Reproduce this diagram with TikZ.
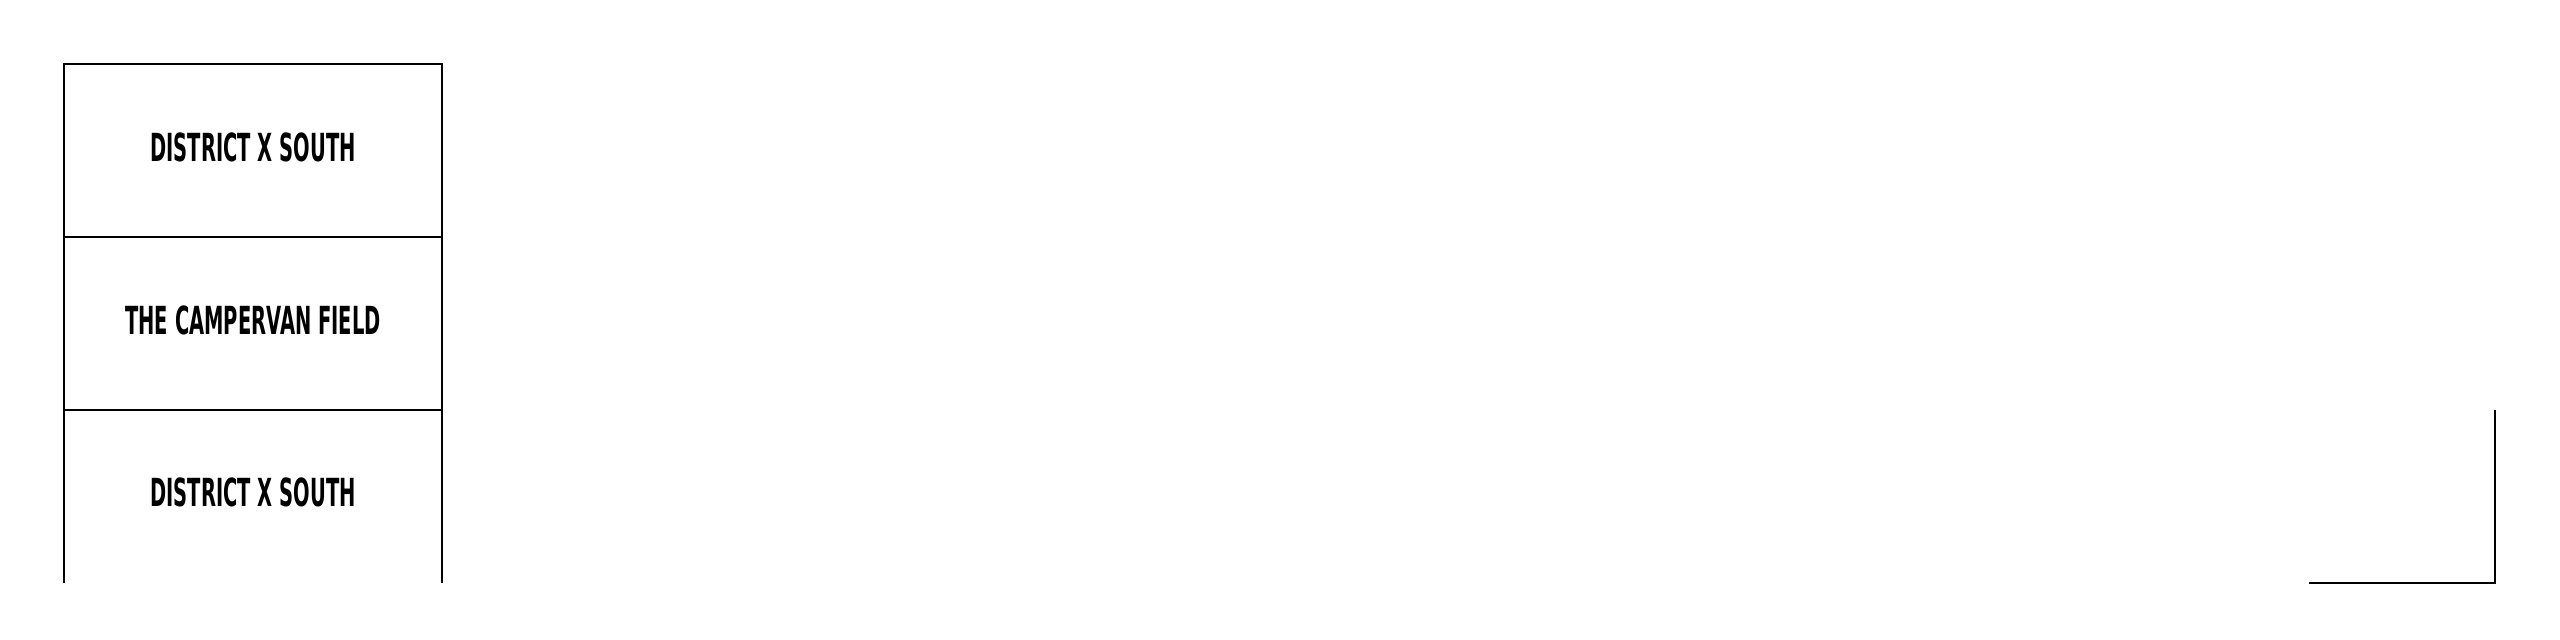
\documentclass[tikz,border=0pt]{standalone}
\usepackage{xcolor}
\usepackage{fontspec}
\newfontfamily\signfont[FakeStretch = 0.56]{DejaVu Sans Condensed}
\usepackage{tikz}

\begin{document}
\begin{tikzpicture}[x = 0.01cm, y = -0.01cm,
    fieldname/.style = {anchor = base, inner sep = 0pt,
      font = \signfont\bfseries\fontsize{11}{13}\selectfont}]
    \useasboundingbox (0, 0) rectangle (2560, 640);
    {
      \draw (64, 583) -- (64, 64) -- (442, 64) -- (442, 583);
      \draw (64, 237) -- (442, 237);
      \draw (64, 410) -- (442, 410);
    }
    {
      \draw (2309, 583) -- (2495, 583) -- (2495, 410);
    }
    \node[fieldname] (north) at (253, 161.5) {DISTRICT X SOUTH};
    \node[fieldname] (camp) at (253, 334.5) {THE CAMPERVAN FIELD};
    \node[fieldname] (south) at (253, 507) {DISTRICT X SOUTH};
  \end{tikzpicture}
\end{document}
